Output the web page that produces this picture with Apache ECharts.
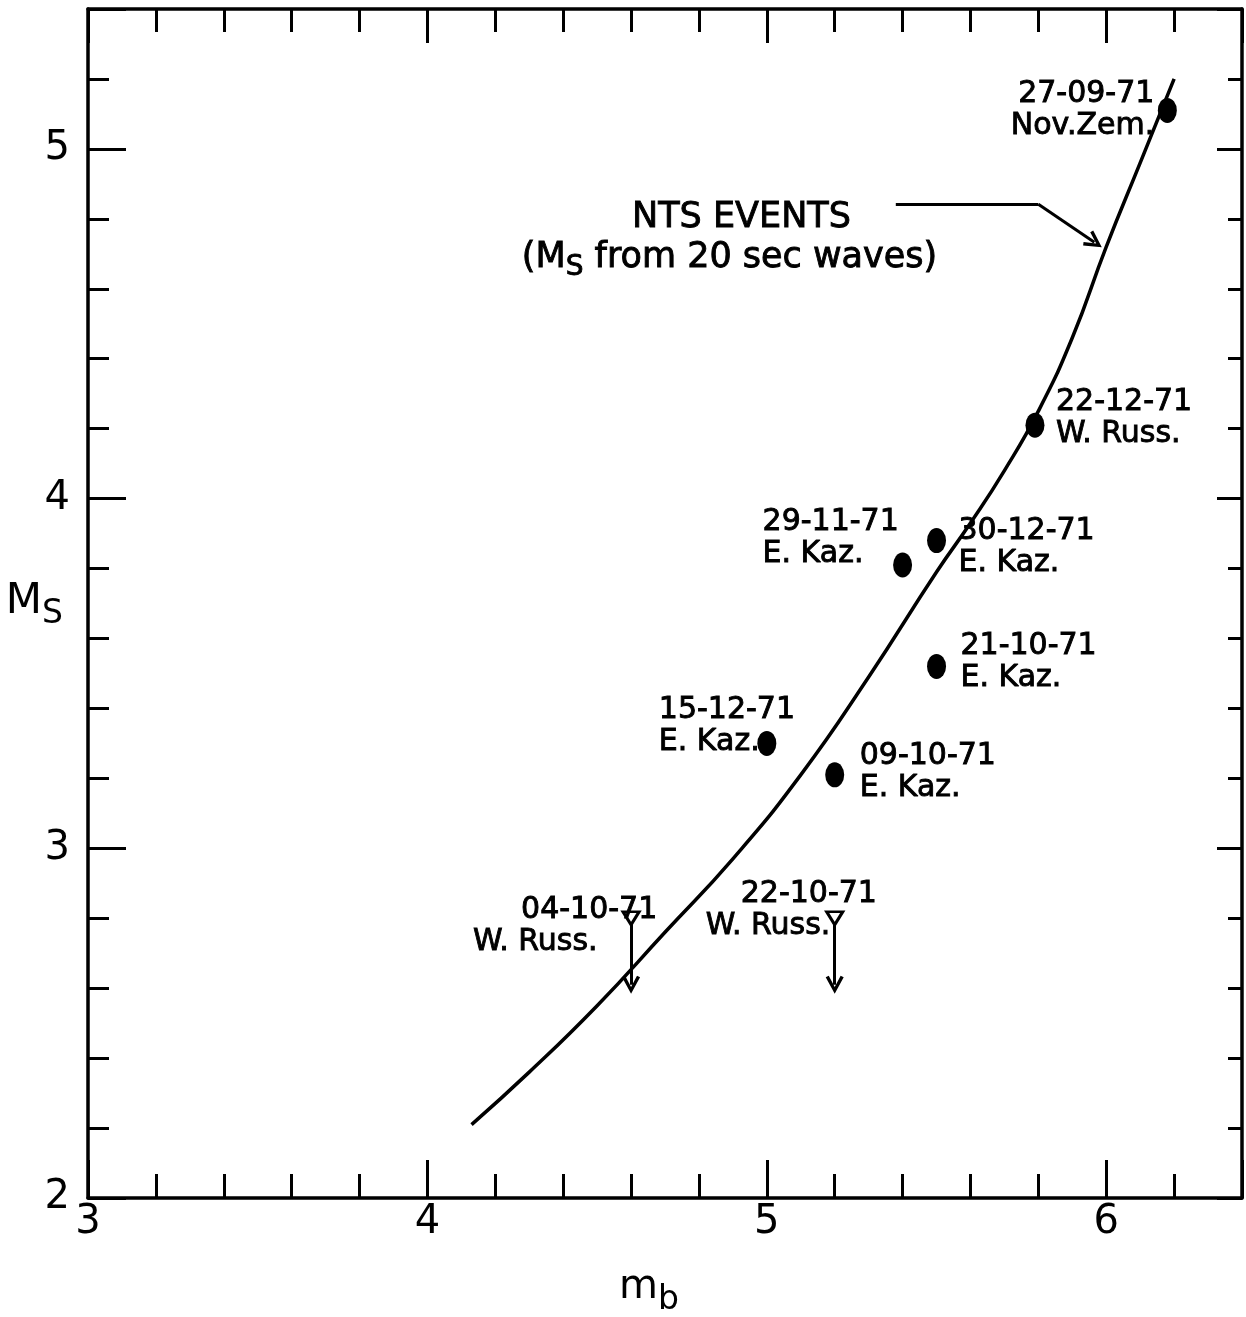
<!DOCTYPE html>
<html><head><meta charset="utf-8">
<script src="https://cdn.jsdelivr.net/npm/echarts@6/dist/echarts.min.js"></script>
<style>html,body{margin:0;padding:0;background:#fff}#c{width:1246px;height:1317px}</style>
</head><body><div id="c"></div>
<script>
// ---- data ----
const eventDates = ['27-09-71','22-12-71','30-12-71','29-11-71','21-10-71','15-12-71','09-10-71'];
const eventSites = ['Nov.Zem.','W. Russ.','E. Kaz.','E. Kaz.','E. Kaz.','E. Kaz.','E. Kaz.'];
const eventMb = [6.18, 5.79, 5.50, 5.40, 5.50, 5.00, 5.20];
const eventMs = [5.11, 4.21, 3.88, 3.81, 3.52, 3.30, 3.21];

const boundDates = ['04-10-71','22-10-71'];
const boundSites = ['W. Russ.','W. Russ.'];
const boundMb = [4.60, 5.20];
const boundMs = [2.80, 2.80];
const boundArrowEnd = [2.61, 2.61];

const ntsMb = [4.13, 4.30, 4.50, 4.70, 4.90, 5.10, 5.30, 5.50, 5.60, 5.70, 5.80, 5.90, 6.00, 6.10, 6.20];
const ntsMs = [2.21, 2.36, 2.55, 2.76, 2.97, 3.21, 3.49, 3.79, 3.93, 4.08, 4.25, 4.46, 4.72, 4.96, 5.20];

const xTickLabels = [3, 4, 5, 6];
const yTickLabels = [2, 3, 4, 5];

// annotation anchors (data coords)
const ntsNoteAt = [4.89, 4.739];
const ntsPointer = [[5.38, 4.842], [5.80, 4.842], [5.965, 4.733]];

// ---- layout of labels (not data) ----
const eventLabelLayout = [
  {align:'right', dx:-13, dy:0},
  {align:'left', dx:21, dy:-7},
  {align:'left', dx:22, dy:7},
  {align:'left', dx:-140, dy:-27},
  {align:'left', dx:24, dy:-4},
  {align:'left', dx:-108, dy:-17},
  {align:'left', dx:25, dy:-3}
];
const boundLabelLayout = [
  {dx:-158, dy:8, pad:48},
  {dx:-129, dy:-8, pad:35}
];

const FONT = 'DejaVu Sans';
const black = '#000';
const chevron = 'path://M5,0 L10,11 L8.3,12 L5,4.5 L1.7,12 L0,11 Z';

const labelBase = {
  show:true, position:'inside', color:black, opacity:1, fontFamily:FONT, fontSize:30, lineHeight:32,
  verticalAlign:'middle', textBorderColor:black, textBorderWidth:0.9
};

function valueAxis(pos, interval, tickLen, opts) {
  const isX = pos === 'bottom' || pos === 'top';
  const ax = {
    type:'value', position:pos, min: isX ? 3 : 2, max: isX ? 6.4 : 5.4, interval:interval,
    axisLine:{show: !!(opts && opts.line), onZero:false, lineStyle:{color:black, width:3.5}},
    axisTick:{show:true, inside:true, length:tickLen, lineStyle:{color:black, width:3}},
    axisLabel:{show:false},
    splitLine:{show:false}, minorTick:{show:false}
  };
  return Object.assign(ax, opts && opts.extra);
}

const chart = echarts.init(document.getElementById('c'), null, {renderer:'canvas'});
chart.setOption({
  backgroundColor:'#fff',
  animation:false,
  grid:{left:88, right:4, top:9, bottom:119, containLabel:false, outerBoundsMode:'none'},
  xAxis:[
    valueAxis('bottom', 1, 38, {line:true, extra:{
      axisLabel:{show:true, margin:5, color:black, fontFamily:FONT, fontSize:40,
        formatter:v => xTickLabels.includes(Math.round(v*100)/100) ? String(v) : ''},
      name:'{m|m}{b|b}', nameLocation:'middle', nameGap:70, nameMoveOverlap:false,
      nameTextStyle:{color:black, fontFamily:FONT, padding:[0,32,0,0],
        rich:{m:{fontSize:40, lineHeight:44, verticalAlign:'top', fontFamily:FONT, color:black},
              b:{fontSize:33, lineHeight:34, verticalAlign:'top', padding:[16,0,0,0], fontFamily:FONT, color:black}}}
    }}),
    valueAxis('bottom', 0.2, 24),
    valueAxis('top', 1, 34, {line:true}),
    valueAxis('top', 0.2, 23)
  ],
  yAxis:[
    valueAxis('left', 1, 38, {line:true, extra:{
      axisLabel:{show:true, margin:18, color:black, fontFamily:FONT, fontSize:40,
        formatter:v => yTickLabels.includes(Math.round(v*100)/100) ? String(v) : ''},
      name:'{m|M}{s|S}', nameLocation:'middle', nameGap:25, nameRotate:0, nameMoveOverlap:false,
      nameTextStyle:{color:black, fontFamily:FONT, align:'right',
        rich:{m:{fontSize:42, lineHeight:44, verticalAlign:'top', fontFamily:FONT, color:black},
              s:{fontSize:33, lineHeight:34, verticalAlign:'top', padding:[16,0,0,0], fontFamily:FONT, color:black}}}
    }}),
    valueAxis('left', 0.2, 21),
    valueAxis('right', 1, 25, {line:true}),
    valueAxis('right', 0.2, 14)
  ],
  series:[
    {
      name:'NTS events', type:'line', xAxisIndex:0, yAxisIndex:0,
      data: ntsMb.map((x,i)=>[x, ntsMs[i]]),
      smooth:0.5, symbol:'none', showSymbol:false, silent:true,
      lineStyle:{color:black, width:3.5}, z:2
    },
    {
      name:'pointer-line', type:'lines', coordinateSystem:'cartesian2d', xAxisIndex:0, yAxisIndex:0,
      symbol:['none','none'], silent:true,
      lineStyle:{color:black, width:3, opacity:1, curveness:0},
      data:[{coords:[ntsPointer[0], ntsPointer[1]]}], z:3
    },
    {
      name:'arrows', type:'lines', coordinateSystem:'cartesian2d', xAxisIndex:0, yAxisIndex:0,
      symbol:['none', chevron], symbolSize:18, silent:true,
      lineStyle:{color:black, width:3, opacity:1, curveness:0},
      itemStyle:{color:black},
      data: boundMb.map((x,i)=>({coords:[[x, boundMs[i]-0.015],[x, boundArrowEnd[i]]]}))
        .concat([{coords:[ntsPointer[1], ntsPointer[2]]}]),
      z:3
    },
    {
      name:'events', type:'scatter', xAxisIndex:0, yAxisIndex:0,
      symbol:'circle', symbolSize:[19,25], itemStyle:{color:black, opacity:1}, silent:true, z:5,
      data: eventMb.map((x,i)=>({
        value:[x, eventMs[i]],
        label:{align:eventLabelLayout[i].align, offset:[eventLabelLayout[i].dx, eventLabelLayout[i].dy]}
      })),
      label: Object.assign({}, labelBase, {
        formatter: p => eventDates[p.dataIndex] + '\n' + eventSites[p.dataIndex]
      })
    },
    {
      name:'upper bounds', type:'scatter', xAxisIndex:0, yAxisIndex:0,
      symbol:'triangle', symbolRotate:180, symbolSize:[16,13],
      itemStyle:{color:'#fff', borderColor:black, borderWidth:3, opacity:1}, silent:true, z:6,
      data: boundMb.map((x,i)=>({
        value:[x, boundMs[i]],
        label:{align:'left', offset:[boundLabelLayout[i].dx, boundLabelLayout[i].dy],
          rich:{a:{padding:[0,0,0,boundLabelLayout[i].pad]}, b:{}}}
      })),
      label: Object.assign({}, labelBase, {
        formatter: p => '{a|' + boundDates[p.dataIndex] + '}\n{b|' + boundSites[p.dataIndex] + '}'
      })
    },
    {
      name:'note', type:'scatter', xAxisIndex:0, yAxisIndex:0,
      symbolSize:0, silent:true, z:6, itemStyle:{opacity:1},
      data:[ntsNoteAt],
      label:{show:true, position:'inside', align:'center', verticalAlign:'middle', color:black,
        fontFamily:FONT, textBorderColor:black, textBorderWidth:0.9,
        formatter:'{t|NTS EVENTS}\n{p|(M}{s|S}{p| from 20 sec waves)}',
        rich:{
          t:{fontSize:35, lineHeight:44, padding:[0,0,0,24], fontFamily:FONT, color:black},
          p:{fontSize:35, lineHeight:44, verticalAlign:'top', fontFamily:FONT, color:black},
          s:{fontSize:28, lineHeight:30, verticalAlign:'top', padding:[14,0,0,0], fontFamily:FONT, color:black}
        }}
    }
  ]
});
</script>
</body></html>
